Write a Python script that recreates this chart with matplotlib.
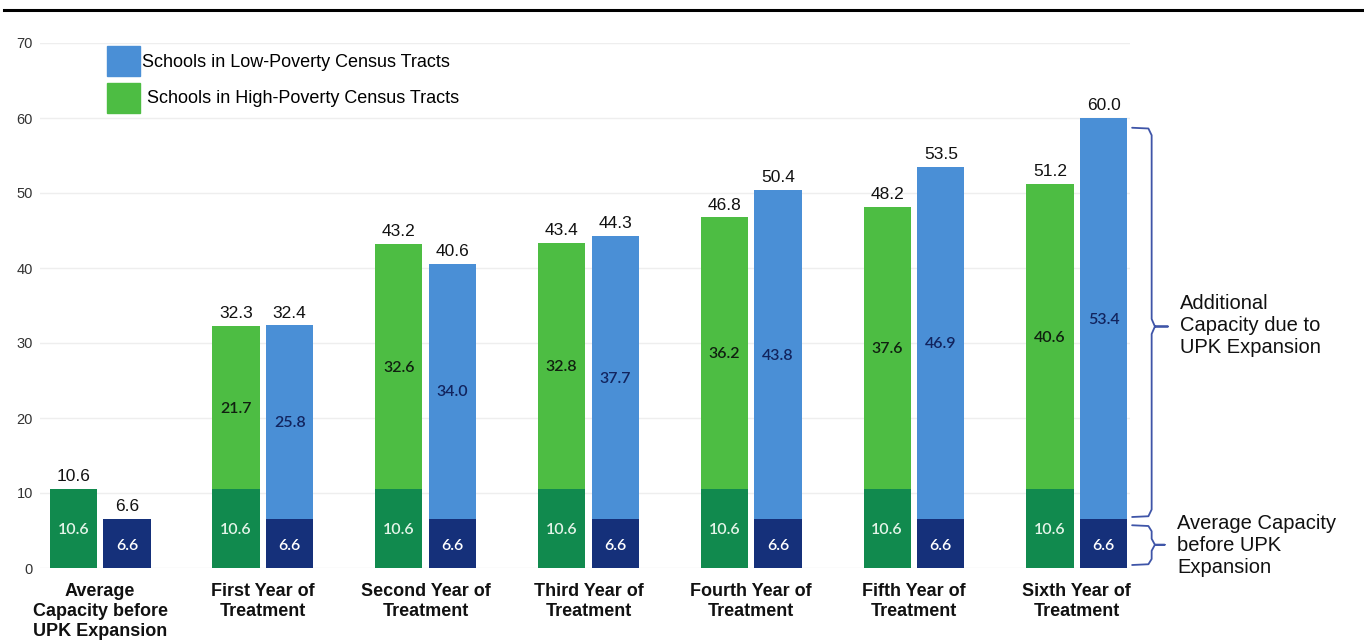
import matplotlib
matplotlib.use("Agg")
import matplotlib.pyplot as plt
from matplotlib.lines import Line2D
from matplotlib.patches import Patch
import numpy as np

categories = ["Average\nCapacity before\nUPK Expansion", "First Year of\nTreatment",
              "Second Year of\nTreatment", "Third Year of\nTreatment",
              "Fourth Year of\nTreatment", "Fifth Year of\nTreatment",
              "Sixth Year of\nTreatment"]
high_base = [10.6, 10.6, 10.6, 10.6, 10.6, 10.6, 10.6]
low_base = [6.6, 6.6, 6.6, 6.6, 6.6, 6.6, 6.6]
high_add = [0.0, 21.7, 32.6, 32.8, 36.2, 37.6, 40.6]
low_add = [0.0, 25.8, 34.0, 37.7, 43.8, 46.9, 53.4]
high_total = [10.6, 32.3, 43.2, 43.4, 46.8, 48.2, 51.2]
low_total = [6.6, 32.4, 40.6, 44.3, 50.4, 53.5, 60.0]
yticks = [0, 10, 20, 30, 40, 50, 60, 70]

C_DKGREEN = "#118a4e"
C_LTGREEN = "#4dbd43"
C_LTBLUE = "#4a8fd6"
C_NAVY = "#15307a"
C_BRACKET = "#3f55a8"

plt.rcParams['font.family'] = ['Liberation Sans', 'DejaVu Sans']

fig = plt.figure(figsize=(13.64, 6.4), dpi=100)
ax = fig.add_axes([40/1364, 1-568/640, 1090/1364, 525/640])

x = np.arange(len(categories))
w = 0.29
off = 0.165
xg = x - off
xb = x + off

ax.bar(xg, high_base, w, color=C_DKGREEN, zorder=3)
ax.bar(xb, low_base, w, color=C_NAVY, zorder=3)
ax.bar(xg, high_add, w, bottom=high_base, color=C_LTGREEN, zorder=3)
ax.bar(xb, low_add, w, bottom=low_base, color=C_LTBLUE, zorder=3)

numfont = ['Lato', 'DejaVu Sans']
for i in range(len(categories)):
    ax.text(xg[i], high_base[i] / 2 - 0.2, f"{high_base[i]:.1f}", ha="center", va="center",
            color="#e3f4e8", fontsize=11.5, family=numfont, fontweight="semibold", zorder=4)
    ax.text(xb[i], low_base[i] / 2 - 0.3, f"{low_base[i]:.1f}", ha="center", va="center",
            color="white", fontsize=11.5, family=numfont, fontweight="semibold", zorder=4)
    if high_add[i] > 0:
        ax.text(xg[i], high_base[i] + high_add[i] / 2 - 0.2, f"{high_add[i]:.1f}", ha="center",
                va="center", color="#102010", fontsize=11.5, family=numfont,
                fontweight="semibold", zorder=4)
    if low_add[i] > 0:
        ax.text(xb[i], low_base[i] + low_add[i] / 2 - 0.2, f"{low_add[i]:.1f}", ha="center",
                va="center", color="#12245e", fontsize=11.5, family=numfont,
                fontweight="semibold", zorder=4)
    ax.text(xg[i], high_total[i] + 0.6, f"{high_total[i]:.1f}", ha="center", va="bottom",
            color="#111111", fontsize=12.5, zorder=4)
    ax.text(xb[i], low_total[i] + 0.6, f"{low_total[i]:.1f}", ha="center", va="bottom",
            color="#111111", fontsize=12.5, zorder=4)

ax.set_xlim(-0.369, 6.327)
ax.set_ylim(0, 70)
ax.set_yticks(yticks)
ax.set_yticklabels([str(t) for t in yticks], fontsize=10.5, color="#333333")
ax.tick_params(axis="y", length=0, pad=5)
ax.set_xticks(x)
ax.set_xticklabels(categories, fontsize=13, fontweight="bold", color="#111111",
                   linespacing=1.22)
ax.tick_params(axis="x", length=0, pad=11)
for s in ax.spines.values():
    s.set_visible(False)
ax.grid(axis="y", color="#eeeeee", linewidth=1, zorder=0)
ax.set_axisbelow(True)

handles = [Patch(color=C_LTBLUE), Patch(color=C_LTGREEN)]
labels = ["Schools in Low-Poverty Census Tracts", " Schools in High-Poverty Census Tracts"]
leg = ax.legend(handles, labels, loc="upper left", bbox_to_anchor=(0.047, 1.025),
                frameon=False, fontsize=13, handlelength=1.8, handleheight=2.2,
                handletextpad=0.1, labelspacing=0.35)

# brackets
def bracket(y0, y1, ymid, xs, xv, xt, r):
    xs_ = [xs, xv - 0.02, xv, xv, xv + 0.02, xt, xv + 0.02, xv, xv, xv - 0.02, xs]
    ys_ = [y1, y1 - 0.1, y1 - r, ymid + r, ymid, ymid, ymid, ymid - r, y0 + r, y0 + 0.1, y0]
    ax.add_line(Line2D(xs_, ys_, color=C_BRACKET, linewidth=1.3, clip_on=False,
                       solid_joinstyle="round", solid_capstyle="round"))

bracket(6.8, 58.7, 32.2, 6.34, 6.46, 6.56, 1.0)
bracket(0.4, 5.7, 3.1, 6.34, 6.46, 6.54, 0.8)

ax.text(6.635, 32.3, "Additional\nCapacity due to\nUPK Expansion", ha="left", va="center",
        fontsize=14.5, color="#111111", linespacing=1.2, clip_on=False)
ax.text(6.615, 3.0, "Average Capacity\nbefore UPK\nExpansion", ha="left", va="center",
        fontsize=14.5, color="#111111", linespacing=1.2, clip_on=False)

fig.add_artist(Line2D([0.003, 1.0], [1 - 10/640, 1 - 10/640], color="black", linewidth=2.2,
                      transform=fig.transFigure))

fig.savefig("out.png", dpi=100)
